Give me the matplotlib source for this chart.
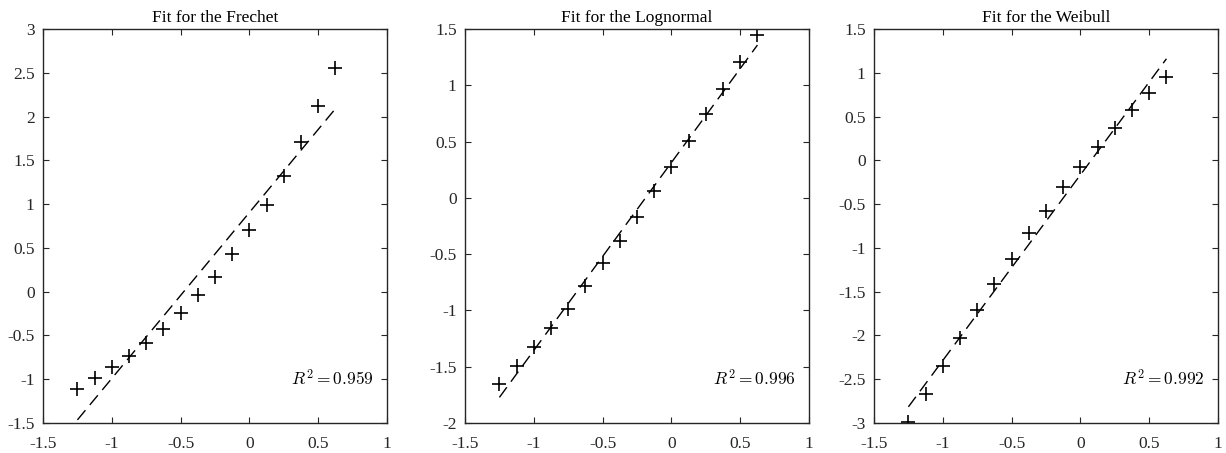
import numpy as np
import matplotlib
matplotlib.use("Agg")
import matplotlib.pyplot as plt

plt.rcParams['font.family'] = ['Liberation Serif', 'DejaVu Serif']
plt.rcParams['mathtext.fontset'] = 'cm'

# probability-plot data
x = np.array([-1.25, -1.125, -1.0, -0.875, -0.75, -0.625, -0.5, -0.375,
              -0.25, -0.125, 0.0, 0.125, 0.25, 0.375, 0.5, 0.625])

y_frechet = np.array([-1.106, -0.99, -0.86, -0.736, -0.59, -0.427, -0.248, -0.042,
                      0.172, 0.431, 0.706, 0.99, 1.323, 1.705, 2.124, 2.555])
y_lognormal = np.array([-1.655, -1.495, -1.323, -1.154, -0.991, -0.783, -0.581, -0.38,
                        -0.166, 0.065, 0.273, 0.501, 0.745, 0.967, 1.207, 1.451])
y_weibull = np.array([-2.99, -2.666, -2.349, -2.025, -1.712, -1.415, -1.129, -0.835,
                      -0.58, -0.309, -0.072, 0.156, 0.374, 0.576, 0.774, 0.957])

titles = ["Fit for the Frechet", "Fit for the Lognormal", "Fit for the Weibull"]
r2_labels = ["0.959", "0.996", "0.992"]
ylims = [(-1.5, 3), (-2, 1.5), (-3, 1.5)]
yticks = [np.arange(-1.5, 3.01, 0.5), np.arange(-2, 1.51, 0.5), np.arange(-3, 1.51, 0.5)]
xticks = np.arange(-1.5, 1.01, 0.5)

def fmt(v):
    s = "%g" % v
    return "0" if s == "-0" else s

fig = plt.figure(figsize=(12.26, 4.53), dpi=100)
lefts = [0.0351, 0.3793, 0.7129]
gray = '#262626'

for i, yv in enumerate([y_frechet, y_lognormal, y_weibull]):
    ax = fig.add_axes([lefts[i], 0.0662, 0.2806, 0.8698])
    # least squares line through the points
    m, c = np.polyfit(x, yv, 1)
    xl = np.array([x.min(), x.max()])
    ax.plot(xl, m * xl + c, color='black', lw=1.0, dashes=(9, 5))
    ax.plot(x, yv, '+', color='black', markersize=10, mew=1.2)
    ax.set_xlim(-1.5, 1)
    ax.set_ylim(*ylims[i])
    ax.set_xticks(xticks)
    ax.set_xticklabels([fmt(v) for v in xticks])
    ax.set_yticks(yticks[i])
    ax.set_yticklabels([fmt(v) for v in yticks[i]])
    ax.tick_params(direction='in', top=True, right=True, length=4, width=0.8,
                   colors=gray, labelsize=12.5, labelcolor=gray)
    ax.tick_params(axis='x', pad=9)
    ax.tick_params(axis='y', pad=6)
    for sp in ax.spines.values():
        sp.set_color(gray)
        sp.set_linewidth(1.0)
    ax.set_title(titles[i], fontsize=12.5, pad=5, color='black')
    ax.text(0.72, 0.11, r"$R^2 = %s$" % r2_labels[i], transform=ax.transAxes,
            ha='left', va='center', fontsize=12.5)

fig.savefig("out.png", dpi=100)
